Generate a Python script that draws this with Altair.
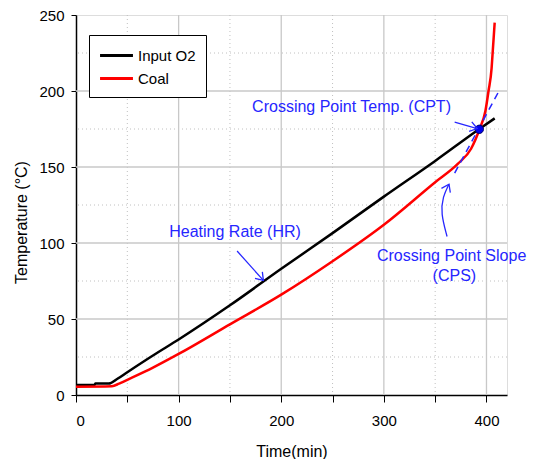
import math
import altair as alt
import pandas as pd

# ---- data ----
time_o2 = [0, 18, 19, 32, 40, 50, 75, 100, 150, 200, 250, 300, 350, 393, 408]
temp_o2 = [6.5, 6.5, 7.5, 7.5, 10.5, 15, 26, 36.5, 59, 83, 106.5, 130.5, 154, 175, 182]

time_coal = [0, 35, 42, 50, 75, 100, 150, 200, 250, 300, 350, 372, 385, 393, 399, 402, 405, 406, 407, 408]
temp_coal = [5.5, 5.8, 7.5, 10, 18, 27, 46.5, 66, 88, 112, 140, 152, 162, 174.5, 187, 200, 215, 225, 235, 245]

series_names = ["Input O2", "Coal"]
series_colors = ["black", "red"]

cpt_x = [393]
cpt_y = [174.8]

cps_x = [369, 413]
cps_y = [146, 201]

x_major = [100, 200, 300, 400]
x_minor = [50, 150, 250, 350]
y_major = [50, 100, 150, 200]
y_minor = [25, 75, 125, 175, 225]

ann_text = ["Crossing Point Temp. (CPT)", "Heating Rate (HR)", "Crossing Point  Slope", "(CPS)"]
ann_x = [171.6, 155, 366, 368.7]
ann_y = [189.6, 107, 91.7, 78.3]
ann_align = ["left", "center", "center", "center"]

# straight arrows: start -> end
arrow_x1 = [157, 369]
arrow_y1 = [94.7, 179.5]
arrow_x2 = [182.6, 391]
arrow_y2 = [75.4, 175.3]

# curved arrow (CPS)
curve_x = [361.6, 355.5, 357.4, 363.5]
curve_y = [104.3, 119.6, 130.4, 138.7]

X_MAX = 420
Y_MAX = 250
W = 431
H = 380
PX_X = W / X_MAX
PX_Y = H / Y_MAX
BLUE = "#2626ff"
FONT = "Liberation Sans"

xs = alt.Scale(domain=[0, X_MAX], nice=False, zero=False)
ys = alt.Scale(domain=[0, Y_MAX], nice=False, zero=False)


def angle(x1, y1, x2, y2):
    return math.degrees(math.atan2(-(y2 - y1) * PX_Y, (x2 - x1) * PX_X)) % 360


lines_df = pd.DataFrame(
    {"t": time_o2 + time_coal,
     "T": temp_o2 + temp_coal,
     "series": [series_names[0]] * len(time_o2) + [series_names[1]] * len(time_coal),
     "ord": list(range(len(time_o2))) + list(range(len(time_coal)))}
)

grid_major = alt.Chart(pd.DataFrame({"v": x_major})).mark_rule(color="#c8c8c8", strokeWidth=1.3).encode(
    x=alt.X("v:Q", scale=xs))
grid_minor = alt.Chart(pd.DataFrame({"v": x_minor})).mark_rule(color="#c0c0c0", strokeWidth=1, strokeDash=[1, 3]).encode(
    x=alt.X("v:Q", scale=xs))
gridy_major = alt.Chart(pd.DataFrame({"v": y_major})).mark_rule(color="#c8c8c8", strokeWidth=1.3).encode(
    y=alt.Y("v:Q", scale=ys))
gridy_minor = alt.Chart(pd.DataFrame({"v": y_minor})).mark_rule(color="#c0c0c0", strokeWidth=1, strokeDash=[1, 3]).encode(
    y=alt.Y("v:Q", scale=ys))

x_axis = alt.Axis(values=list(range(0, 401, 50)), labelExpr="datum.value % 100 == 0 ? datum.label : ''",
                  title="Time(min)", grid=False, tickSize=7, labelFontSize=15, labelFont=FONT,
                  titleFontSize=16, titleFont=FONT, titleFontWeight="normal", titlePadding=15,
                  labelPadding=11, domainColor="black", tickColor="black", labelColor="black",
                  titleColor="black", domainWidth=1.5)
y_axis = alt.Axis(values=list(range(0, 251, 25)), labelExpr="datum.value % 50 == 0 ? datum.label : ''",
                  title="Temperature (°C)", grid=False, tickSize=5, labelFontSize=15, labelFont=FONT,
                  titleFontSize=16, titleFont=FONT, titleFontWeight="normal", titlePadding=9,
                  titleY=207,
                  labelPadding=7, domainColor="black", tickColor="black", labelColor="black",
                  titleColor="black", domainWidth=1.5)

lines = alt.Chart(lines_df).mark_line(strokeWidth=2.5, interpolate="monotone").encode(
    x=alt.X("t:Q", scale=xs, axis=x_axis),
    y=alt.Y("T:Q", scale=ys, axis=y_axis),
    color=alt.Color("series:N", scale=alt.Scale(domain=series_names, range=series_colors),
                    sort=series_names,
                    legend=alt.Legend(title=None, orient="none", legendX=13, legendY=20,
                                      symbolType="M-1.9,0L1.9,0", symbolSize=300, symbolStrokeWidth=3,
                                      symbolOffset=7,
                                      labelFontSize=15, labelFont=FONT, labelColor="black",
                                      strokeColor="black", fillColor="white", padding=10,
                                      rowPadding=4, labelOffset=11)),
    detail="series:N",
    order="ord:Q",
)

tangent = alt.Chart(pd.DataFrame({"x": cps_x, "y": cps_y})).mark_line(
    color=BLUE, strokeWidth=1.5, strokeDash=[7, 5]).encode(
    x=alt.X("x:Q", scale=xs), y=alt.Y("y:Q", scale=ys))

dot = alt.Chart(pd.DataFrame({"x": cpt_x, "y": cpt_y})).mark_point(
    filled=True, color="#0000ee", size=70, opacity=1, stroke="#000066", strokeWidth=1).encode(
    x=alt.X("x:Q", scale=xs), y=alt.Y("y:Q", scale=ys))

ann_df = pd.DataFrame({"x": ann_x, "y": ann_y, "txt": ann_text, "al": ann_align})
texts = alt.Chart(ann_df).transform_filter(
    "datum.al == 'left'").mark_text(align="left", baseline="middle", color=BLUE, fontSize=16, font=FONT).encode(
    x=alt.X("x:Q", scale=xs), y=alt.Y("y:Q", scale=ys), text="txt:N")
texts_c = alt.Chart(ann_df).transform_filter(
    "datum.al == 'center'").mark_text(align="center", baseline="middle", color=BLUE, fontSize=16, font=FONT).encode(
    x=alt.X("x:Q", scale=xs), y=alt.Y("y:Q", scale=ys), text="txt:N")

arrows_df = pd.DataFrame({"x": arrow_x1, "y": arrow_y1, "x2": arrow_x2, "y2": arrow_y2})
arrows = alt.Chart(arrows_df).mark_rule(color=BLUE, strokeWidth=1.3).encode(
    x=alt.X("x:Q", scale=xs), y=alt.Y("y:Q", scale=ys), x2="x2:Q", y2="y2:Q")

curve = alt.Chart(pd.DataFrame({"x": curve_x, "y": curve_y, "o": list(range(len(curve_x)))})).mark_line(
    color=BLUE, strokeWidth=1.3, interpolate="basis").encode(
    x=alt.X("x:Q", scale=xs), y=alt.Y("y:Q", scale=ys), order="o:Q")

head_x = arrow_x2 + [curve_x[-1]]
head_y = arrow_y2 + [curve_y[-1]]
head_a = [angle(arrow_x1[i], arrow_y1[i], arrow_x2[i], arrow_y2[i]) for i in range(len(arrow_x1))] + \
         [angle(curve_x[-2], curve_y[-2], curve_x[-1], curve_y[-1])]
heads = alt.Chart(pd.DataFrame({"x": head_x, "y": head_y, "a": head_a})).mark_point(
    shape="M-1,-0.7L0,0L-1,0.7", filled=False, color=BLUE, strokeWidth=1.3, size=200, opacity=1).encode(
    x=alt.X("x:Q", scale=xs), y=alt.Y("y:Q", scale=ys), angle=alt.Angle("a:Q", scale=None))

chart = alt.layer(
    grid_minor, gridy_minor, grid_major, gridy_major, lines, tangent, dot, arrows, curve, heads, texts, texts_c
).properties(width=W, height=H, padding={"left": 5, "top": 0, "right": 0, "bottom": 0}).configure_view(
    stroke="#333333", strokeWidth=1.5).configure(background="white")

chart.save("out.html", embed_options={"renderer": "svg", "actions": False})
